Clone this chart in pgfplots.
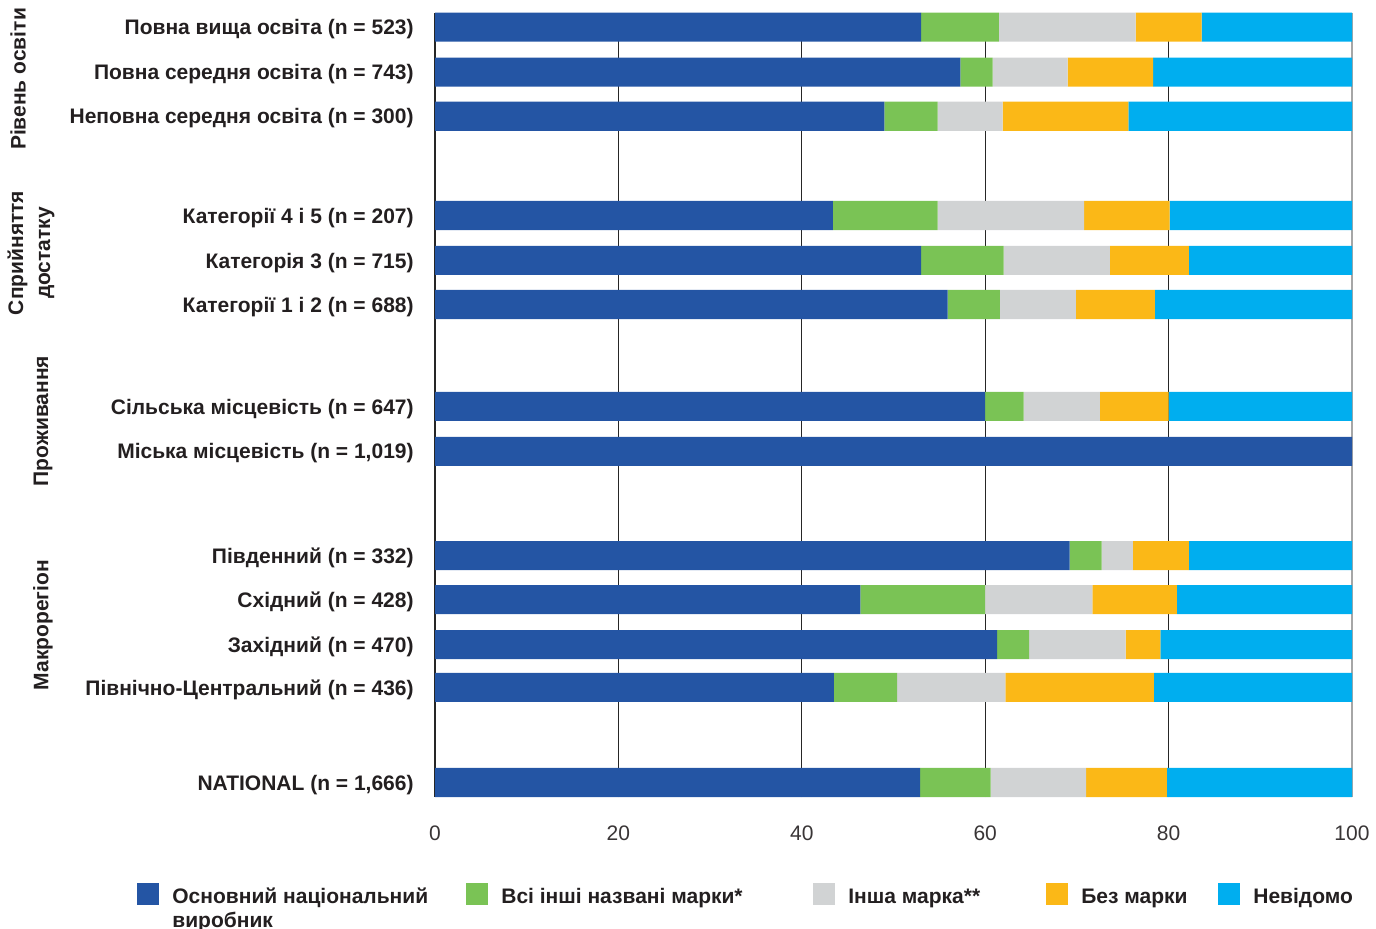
\documentclass[border=0pt]{standalone}
\usepackage{fontspec}
\setmainfont{Liberation Sans}
\usepackage{pgfplots}
\usepackage{pgfplotstable}
\pgfplotsset{compat=1.18}

\definecolor{cMain}{HTML}{2455A4}
\definecolor{cNamed}{HTML}{7AC355}
\definecolor{cOther}{HTML}{D1D3D4}
\definecolor{cNoBrand}{HTML}{FBB817}
\definecolor{cUnknown}{HTML}{00AEEF}
\definecolor{txt}{HTML}{231F20}

% pos = vertical position of the bar; a..e = shares (%) of the five groups
\pgfplotstableread{
pos   a     b     c     d     e
0.00  52.9  7.7   10.4  8.8   20.2
2.135 43.5  6.9   11.8  16.2  21.6
3.10  61.3  3.5   10.5  3.8   20.9
4.11  46.4  13.6  11.7  9.2   19.1
5.10  69.2  3.5   3.4   6.1   17.8
7.44  100.0 0.0   0.0   0.0   0.0
8.45  60.0  4.2   8.3   7.5   20.0
10.74 55.9  5.7   8.3   8.6   21.5
11.73 53.0  9.0   11.6  8.6   17.8
12.74 43.4  11.4  16.0  9.3   19.9
14.97 49.0  5.8   7.1   13.7  24.4
15.96 57.3  3.5   8.2   9.3   21.7
16.97 53.0  8.5   14.9  7.2   16.4
}\shares

\newcommand{\lblfont}{\fontsize{10.5}{12}\selectfont\bfseries\color{txt}}

\begin{document}
\begin{tikzpicture}
\useasboundingbox (0,0) rectangle (688pt,464pt);
\begin{axis}[
  at={(217.5pt,65.5pt)}, anchor=south west,
  scale only axis, width=458.5pt, height=392pt,
  xbar stacked, bar width=0.652,
  xmin=0, xmax=100, ymin=-0.326, ymax=17.29,
  axis line style={draw=none},
  major tick length=0pt,
  xtick={0,20,40,60,80},
  extra x ticks={100},
  extra x tick style={grid style={gray!70, line width=0.9pt}},
  xmajorgrids,
  grid style={black!85, line width=0.6pt},
  /pgf/number format/assume math mode=true,
  xticklabel style={font=\fontsize{10.5}{12}\selectfont\color{txt!90}, anchor=center, yshift=-18pt},
  ytick={0,2.135,3.10,4.11,5.10,7.44,8.45,10.74,11.73,12.74,14.97,15.96,16.97},
  yticklabels={
    {NATIONAL (n = 1,666)},
    {Північно-Центральний (n = 436)},
    {Західний (n = 470)},
    {Східний (n = 428)},
    {Південний (n = 332)},
    {Міська місцевість (n = 1,019)},
    {Сільська місцевість (n = 647)},
    {Категорії 1 і 2 (n = 688)},
    {Категорія 3 (n = 715)},
    {Категорії 4 і 5 (n = 207)},
    {Неповна середня освіта (n = 300)},
    {Повна середня освіта (n = 743)},
    {Повна вища освіта (n = 523)}},
  yticklabel style={font=\lblfont, anchor=base east, inner sep=0pt, xshift=-10.5pt, yshift=-3.8pt},
  legend columns=5,
  legend style={at={(-0.325,-0.1097)}, anchor=north west, draw=none, fill=none,
    inner sep=0pt, font=\lblfont,
    nodes={inner sep=0pt, anchor=base west},
    /tikz/every odd column/.append style={column sep=6.5pt},
    /tikz/every even column/.append style={column sep=0pt}},
  legend cell align=left,
  sq/.style={legend image code/.code={\fill[##1] (0pt,-1pt) rectangle (11pt,10pt);}},
]
\addplot[fill=cMain, draw=none, sq] table[x=a, y=pos] {\shares};
\addlegendentry{\parbox[t]{147pt}{\raggedright Основний національний\\виробник}}
\addplot[fill=cNamed, draw=none, sq] table[x=b, y=pos] {\shares};
\addlegendentry{\makebox[156pt][l]{Всі інші названі марки*}}
\addplot[fill=cOther, draw=none, sq] table[x=c, y=pos] {\shares};
\addlegendentry{\makebox[99pt][l]{Інша марка**}}
\addplot[fill=cNoBrand, draw=none, sq] table[x=d, y=pos] {\shares};
\addlegendentry{\makebox[68.5pt][l]{Без марки}}
\addplot[fill=cUnknown, draw=none, sq] table[x=e, y=pos] {\shares};
\addlegendentry{Невідомо}
\end{axis}

% group headings on the left
\node[rotate=90, font=\lblfont] at (9pt,424.5pt) {Рівень освіти};
\node[rotate=90, font=\lblfont, align=center] at (15.5pt,337.5pt) {Сприйняття\\[1.5pt]достатку};
\node[rotate=90, font=\lblfont] at (21.5pt,253.5pt) {Проживання};
\node[rotate=90, font=\lblfont] at (21.5pt,151.5pt) {Макрорегіон};
\end{tikzpicture}
\end{document}
